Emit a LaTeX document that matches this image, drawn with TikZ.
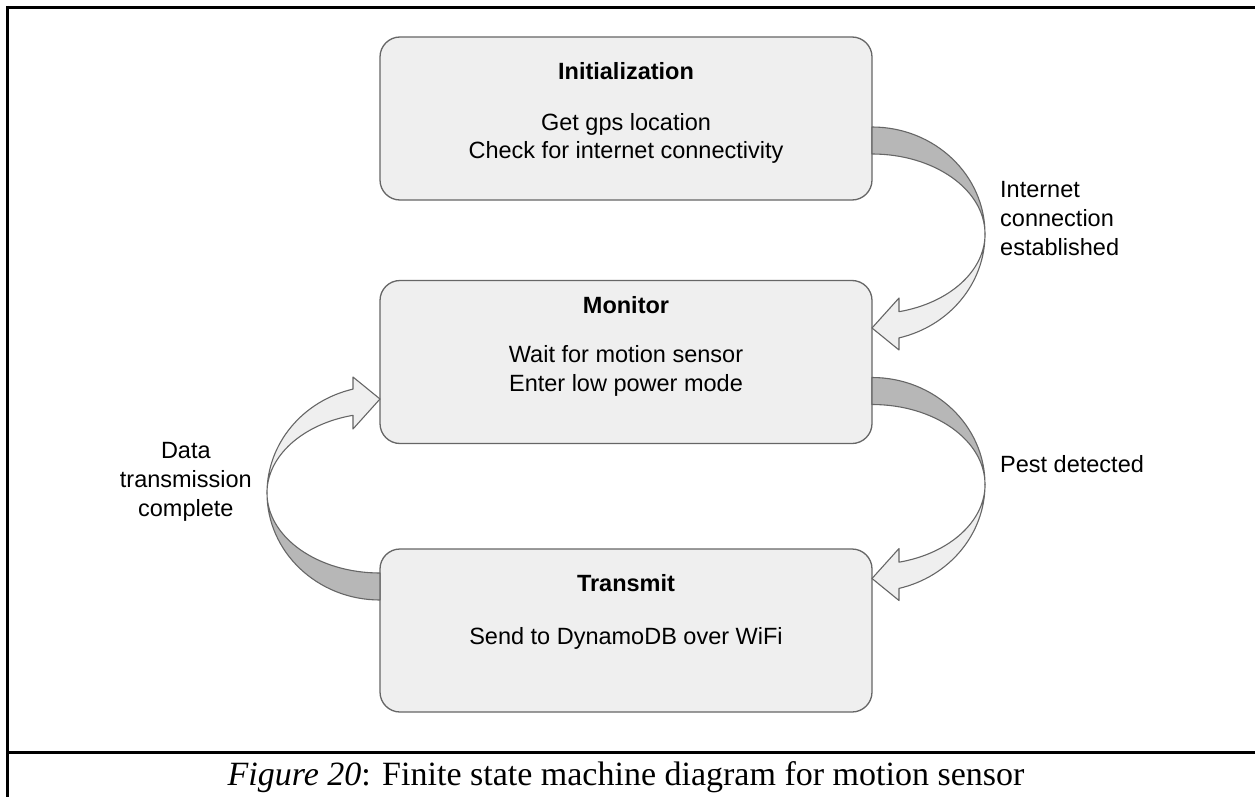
\documentclass[tikz,border=0pt]{standalone}
\usepackage{fontspec}
\setmainfont{Liberation Sans}
\newfontfamily\captionfont{Liberation Serif}
\usetikzlibrary{calc}

\definecolor{boxfill}{HTML}{EFEFEF}
\definecolor{boxline}{HTML}{666666}
\definecolor{backface}{HTML}{B7B7B7}
\definecolor{frontface}{HTML}{EFEFEF}

\tikzset{
  statebox/.style={draw=boxline, fill=boxfill, line width=1.3pt,
    rounded corners=20pt, minimum width=492pt, minimum height=163pt,
    inner sep=0pt, outer sep=0pt},
  statetitle/.style={font=\fontsize{23.5}{29}\selectfont\bfseries,
    inner sep=0pt, anchor=base},
  statetext/.style={font=\fontsize{23.5}{29}\selectfont,
    inner sep=0pt, anchor=base},
  edgelabel/.style={font=\fontsize{23.5}{29}\selectfont, inner sep=0pt},
  frameline/.style={line width=3pt, black},
  bandline/.style={draw=boxline, line width=1.1pt, line join=round},
  % curved block arrow: back face (dark) on the way out, front face
  % (light) on the way back, ending in a head at the pic origin
  pics/turnarrow/.style={code={
    \filldraw[bandline, fill=backface]
      (0,-107) arc[start angle=-90, end angle=0, x radius=113, y radius=107]
      arc[start angle=0, end angle=-90, x radius=113, y radius=80] -- cycle;
    \filldraw[bandline, fill=frontface]
      (113,0) arc[start angle=0, end angle=76.2, x radius=113, y radius=107]
      -- (27,116) -- (0,94) -- (27,64) -- (27,77.7)
      arc[start angle=76.2, end angle=0, x radius=113, y radius=80] -- cycle;
  }}
}

\begin{document}
\begin{tikzpicture}[x=1pt, y=-1pt]
  \useasboundingbox (0,0) rectangle (1255,797);

  % table frame and caption row
  \draw[frameline] (6,7.5) -- (1255,7.5);
  \draw[frameline] (7.5,6) -- (7.5,797);
  \draw[frameline] (6,752) -- (1255,752);

  % states
  \node[statebox] (init) at (626,118.5) {};
  \node[statebox] (monitor) at (626,362) {};
  \node[statebox] (transmit) at (626,630.5) {};

  \node[statetitle] (initT) at (626,80) {Initialization};
  \node[statetext] (initA) at (626,131) {Get gps location};
  \node[statetext] (initB) at (626,158) {Check for internet connectivity};

  \node[statetitle] (monT) at (626,313) {Monitor};
  \node[statetext] (monA) at (626,362) {Wait for motion sensor};
  \node[statetext] (monB) at (626,391) {Enter low power mode};

  \node[statetitle] (trT) at (626,591) {Transmit};
  \node[statetext] (trA) at (626,644) {Send to DynamoDB over WiFi};

  % transitions
  \pic at ($(init.south east)+(0,34)$) {turnarrow};
  \pic at ($(monitor.south east)+(0,41)$) {turnarrow};
  \pic[xscale=-1, yscale=-1] at ($(transmit.north west)+(0,-56)$) {turnarrow};

  % transition labels
  \node[edgelabel, align=left, anchor=north west] (lblA) at (1000,181)
    {Internet\\connection\\established};
  \node[edgelabel, anchor=base west] (lblB) at (1000,472) {Pest detected};
  \node[edgelabel, align=center, anchor=north east] (lblC) at (252,442)
    {Data\\transmission\\complete};

  % caption
  \node[font=\captionfont\fontsize{34}{40}\selectfont, inner sep=0pt,
    anchor=base] (caption) at (626,785)
    {\textit{Figure 20}: Finite state machine diagram for motion sensor};
\end{tikzpicture}
\end{document}
